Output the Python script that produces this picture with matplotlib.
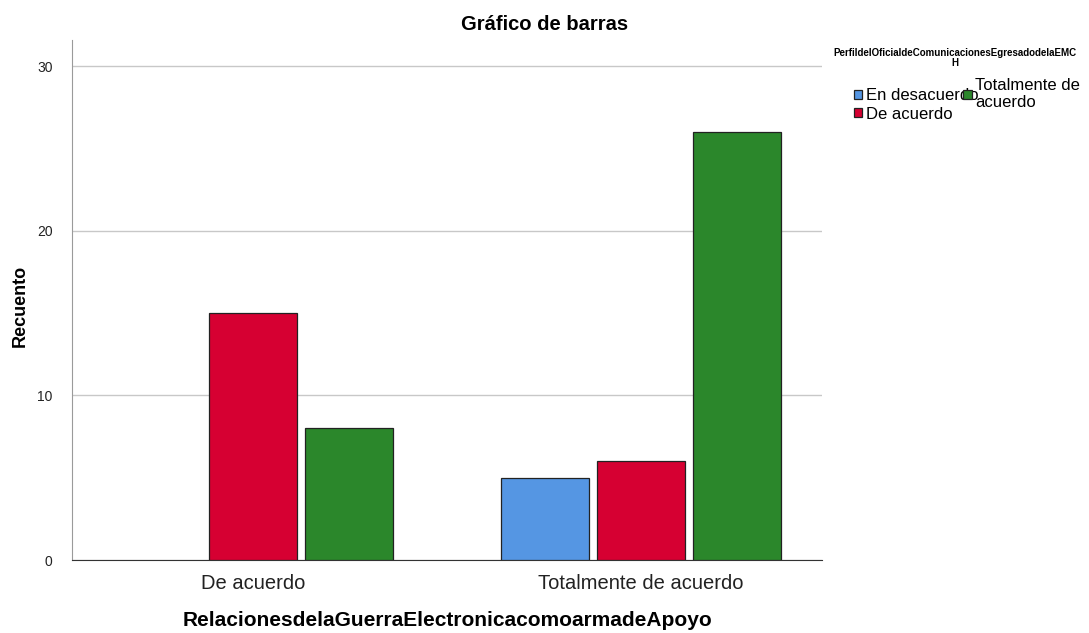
import matplotlib
matplotlib.use("Agg")
import matplotlib.pyplot as plt
import numpy as np

plt.rcParams['font.family'] = ['Liberation Sans', 'DejaVu Sans']

categorias = ["De acuerdo", "Totalmente de acuerdo"]
series = ["En desacuerdo", "De acuerdo", "Totalmente de\nacuerdo"]
en_desacuerdo = [0, 5]
de_acuerdo = [15, 6]
totalmente = [8, 26]
colores = ["#5596E3", "#D60032", "#2B872B"]

fig = plt.figure(figsize=(10.89, 6.33), dpi=100)
ax = fig.add_axes([72/1089, 1-560/633, 750/1089, 520/633])

x = np.arange(len(categorias))
w = 0.227
paso = 0.247
handles = []
for k, (vals, lab) in enumerate(zip([en_desacuerdo, de_acuerdo, totalmente], series)):
    b = ax.bar(x + (k-1)*paso, vals, w, color=colores[k], edgecolor="#222222",
               linewidth=0.9, label=lab, zorder=3)
    for r, v in zip(b.patches, vals):
        if v == 0:
            r.set_visible(False)  # SPSS no dibuja barras vacías
    handles.append(b.patches[-1])

ax.set_xlim(-0.466, 1.466)
ax.set_ylim(0, 31.6)
ax.set_yticks([0, 10, 20, 30])
ax.yaxis.grid(True, color="#C8C8C8", linewidth=1, zorder=0)
ax.set_xticks(x)
ax.set_xticklabels(categorias, fontsize=14.5, color="#222222")
ax.tick_params(axis='x', length=0, pad=10)
ax.tick_params(axis='y', length=0, pad=14, labelsize=10, labelcolor="#222222")
for s in ["top", "right"]:
    ax.spines[s].set_visible(False)
ax.spines["left"].set_color("#9A9A9A")
ax.spines["bottom"].set_color("#333333")

fig.text(545/1089, 1-24/633, "Gráfico de barras", ha="center", va="center",
         fontsize=14.5, fontweight="bold")
fig.text(20/1089, 1-306/633, "Recuento", rotation=90, ha="center", va="center",
         fontsize=13, fontweight="bold")
fig.text(447/1089, 1-621/633, "RelacionesdelaGuerraElectronicacomoarmadeApoyo",
         ha="center", va="center", fontsize=15, fontweight="bold")

fig.text(955/1089, 1-58/633, "PerfildelOficialdeComunicacionesEgresadodelaEMC\nH",
         ha="center", va="center", fontsize=7, fontweight="bold", linespacing=1.0)
fig.legend(handles=handles, labels=series, ncol=2, frameon=False,
           loc="upper left", bbox_to_anchor=(854/1089, 1-78/633),
           fontsize=12, handlelength=0.5, handleheight=0.5, handletextpad=0.2,
           columnspacing=-0.9, labelspacing=0.2, borderpad=0, borderaxespad=0)

fig.savefig("out.png", dpi=100)
